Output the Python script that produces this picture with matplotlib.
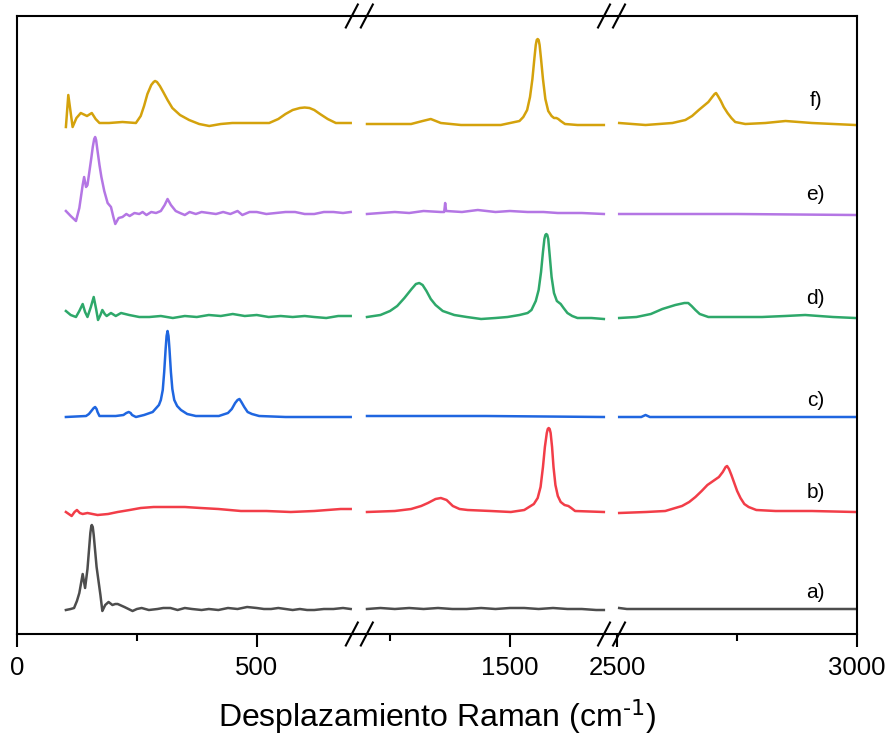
import numpy as np
import matplotlib
matplotlib.use('Agg')
import matplotlib.pyplot as plt
from matplotlib.ticker import FixedLocator

plt.rcParams['font.family'] = ['Liberation Sans', 'DejaVu Sans']
plt.rcParams['mathtext.default'] = 'regular'

nan = np.nan

# espectros Raman (desplazamiento en cm-1, intensidad relativa a su linea base)
# cada espectro tiene tres tramos separados por nan (0-700, 1200-1700, 2500-3000)
a_x = [102, 112, 119, 125, 130, 137, 142, 147, 150, 153, 155, 156, 158, 160, 163, 166, 170, 174, 177, 178,
       184, 191, 199, 205, 210, 224, 241, 250, 260, 275, 293, 305, 320, 335, 350, 365, 385, 400, 420, 440,
       460, 480, 500, 515, 530, 545, 560, 575, 590, 605, 620, 640, 660, 680, 696, nan,
       1202, 1230, 1260, 1290, 1320, 1350, 1380, 1410, 1440, 1470, 1500, 1530, 1560, 1590, 1620, 1650, 1680,
       1696, nan,
       2504, 2520, 2600, 2700, 2800, 2900, 2996]
a_y = [-1, 0, 1, 8, 16, 35, 21, 40, 58, 76, 83, 84, 82, 74, 58, 42, 28, 14, 2, -2,
       4, 7, 4, 5, 5, 2, -2, 0, 1, -1, 0, 1, 1, -1, 1, 0, -1, 0, -1, 1,
       0, 2, 1, 0, 0, 1, 0, -1, 0, -1, -1, 0, 0, 1, 0, nan,
       0, 1, 0, 1, 0, 1, 0, 0, 1, 0, 1, 1, 0, 1, 0, 0, -1,
       -1, nan,
       1, 0, 0, 0, 0, 0, 0]

b_x = [102, 108, 114, 120, 125, 131, 137, 147, 168, 190, 210, 235, 258, 285, 314, 350, 383, 420, 467, 520,
       571, 620, 675, 696, nan,
       1202, 1260, 1294, 1315, 1329, 1345, 1356, 1368, 1381, 1395, 1412, 1460, 1502, 1530, 1550, 1558, 1564,
       1569, 1573, 1577, 1579, 1581, 1583, 1585, 1588, 1591, 1595, 1600, 1606, 1614, 1622, 1628, 1636, 1696,
       nan,
       2504, 2560, 2600, 2635, 2650, 2663, 2676, 2688, 2700, 2712, 2720, 2726, 2729, 2733, 2738, 2744, 2750,
       2757, 2765, 2774, 2790, 2830, 2906, 2996]
b_y = [0, -2, -4, 0, 2, -1, -2, -1, -3, -2, 0, 2, 4, 5, 5, 5, 4, 3, 1, 1,
       0, 1, 3, 3, nan,
       0, 1, 3, 6, 9, 13, 14, 12, 6, 3, 2, 1, 0, 2, 8, 14, 25,
       45, 65, 79, 83, 84, 83, 79, 65, 45, 27, 16, 10, 7, 6, 4, 1, 0,
       nan,
       -1, 0, 1, 6, 10, 15, 21, 27, 31, 35, 40, 45, 46, 43, 37, 29, 21,
       14, 8, 5, 2, 1, 1, 0]

c_x = [102, 144, 150, 155, 160, 163, 166, 168, 172, 190, 206, 222, 228, 233, 237, 240, 248, 265, 283, 296,
       300, 304, 307, 310, 312, 314, 316, 318, 321, 324, 328, 334, 342, 355, 373, 421, 440, 448, 455, 460,
       464, 468, 474, 481, 490, 505, 560, 620, 696, nan,
       1202, 1450, 1696, nan,
       2504, 2550, 2559, 2568, 2996]
c_y = [0, 1, 3, 6, 9, 10, 8, 5, 1, 1, 1, 2, 4, 5, 4, 2, 0, 2, 5, 12,
       17, 27, 45, 68, 81, 86, 81, 68, 45, 28, 17, 11, 7, 3, 1, 1, 4, 8, 14, 17,
       18, 15, 10, 5, 3, 1, 0, 0, 0, nan,
       1, 1, 0, nan,
       0, 0, 2, 0, 0]

d_x = [102, 112, 123, 130, 137, 142, 147, 154, 160, 165, 169, 174, 178, 183, 187, 196, 206, 217, 234, 255,
       276, 300, 325, 350, 375, 400, 425, 450, 475, 500, 525, 550, 575, 600, 620, 645, 670, 696, nan,
       1202, 1230, 1250, 1265, 1280, 1295, 1304, 1311, 1318, 1326, 1335, 1345, 1360, 1384, 1410, 1440, 1470,
       1495, 1520, 1537, 1545, 1554, 1560, 1565, 1569, 1572, 1574, 1576, 1578, 1580, 1583, 1587, 1592, 1598,
       1606, 1612, 1620, 1630, 1641, 1670, 1696, nan,
       2504, 2540, 2570, 2594, 2621, 2640, 2648, 2655, 2663, 2672, 2690, 2750, 2802, 2850, 2892, 2950, 2996]
d_y = [6, 2, 0, 6, 13, 5, 0, 10, 20, 8, -3, 2, 7, 3, 1, 4, 1, 4, 2, 0,
       0, 1, -1, 1, 0, 2, 1, 3, 1, 2, 0, 1, 0, 1, 0, -1, 1, 1, nan,
       0, 2, 6, 11, 19, 28, 33, 34, 32, 26, 18, 12, 6, 2, 0, -2, -1,
       0, 2, 4, 7, 16, 27, 45, 65, 78, 82, 83, 82, 78, 62, 40, 24, 16,
       13, 9, 4, 1, -1, -1, -2, nan,
       -1, 0, 3, 8, 12, 14, 14, 11, 7, 3, 0, 0, 0, 1, 2, 0, -1]

e_x = [102, 112, 123, 130, 137, 140, 144, 147, 155, 158, 161, 163, 165, 168, 172, 176, 182, 189, 196, 201,
       205, 212, 220, 228, 235, 245, 255, 262, 270, 280, 290, 300, 308, 314, 321, 331, 340, 350, 360, 373,
       385, 400, 415, 430, 445, 460, 470, 485, 500, 520, 540, 560, 580, 600, 620, 640, 660, 680, 696, nan,
       1202, 1230, 1260, 1290, 1320, 1356, 1363, 1365, 1367, 1400, 1433, 1470, 1500, 1537, 1570, 1600, 1650,
       1696, nan,
       2504, 2750, 2996]
e_y = [2, -3, -8, 5, 28, 36, 26, 28, 55, 66, 74, 76, 73, 62, 48, 36, 22, 10, 6, -4,
       -11, -5, -4, -1, -3, 0, -1, 1, -2, 1, 0, 2, 8, 14, 8, 2, 0, -2, 1, -1,
       1, 0, -1, 1, -1, 2, -2, 1, 1, -1, 0, 1, 1, -1, -1, 1, 1, 0, 1, nan,
       -1, 0, 1, 0, 2, 1, 1, 10, 2, 1, 3, 1, 2, 1, 1, 0, 0,
       -1, nan,
       -1, -1, -2]

f_x = [102, 107, 116, 124, 133, 146, 156, 164, 172, 192, 220, 248, 258, 265, 272, 280, 285, 288, 292, 298,
       305, 314, 324, 340, 359, 380, 401, 425, 449, 490, 526, 545, 560, 575, 590, 600, 610, 620, 632, 648,
       665, 696, nan,
       1202, 1250, 1294, 1318, 1335, 1356, 1398, 1481, 1520, 1528, 1536, 1542, 1547, 1551, 1554, 1556, 1558,
       1560, 1562, 1565, 1569, 1574, 1580, 1587, 1592, 1597, 1601, 1606, 1615, 1641, 1696, nan,
       2504, 2559, 2615, 2642, 2656, 2670, 2680, 2690, 2698, 2703, 2706, 2710, 2716, 2722, 2730, 2738, 2746,
       2767, 2809, 2851, 2906, 2996]
f_y = [-3, 29, -3, 6, 11, 8, 11, 5, 1, 1, 2, 1, 8, 18, 30, 39, 42, 43, 42, 38,
       32, 24, 16, 9, 4, 0, -2, 0, 1, 1, 1, 5, 10, 14, 16, 16.5, 16, 14, 10, 5,
       1, 1, nan,
       0, 0, 0, 3, 5, 1, -1, -1, 3, 7, 14, 27, 45, 65, 79, 84, 85,
       84, 79, 65, 45, 25, 13, 8, 6, 6, 5, 3, 0, -1, -1, nan,
       1, -1, 1, 4, 8, 14, 18, 22, 27, 30, 31, 28, 23, 17, 11, 6, 2,
       0, 1, 3, 1, -1]

etiquetas = ['a)', 'b)', 'c)', 'd)', 'e)', 'f)']
desplazamientos = [25, 122, 217, 317, 421, 510]
etiqueta_dy = [16, 20, 16, 18, 18, 23]
colores = ['#4d4d4d', '#f23d48', '#1f66e0', '#2ea86a', '#b476e4', '#d4a20c']

# eje x con cortes: 700-1200 y 1700-2500 comprimidos
brk_x = [-1e5, 0, 700, 1200, 1700, 2500, 3000, 1e5]
brk_s = [-1e5, 0, 700, 728, 1228, 1252, 1752, 98752]


def adelante(x):
    return np.interp(x, brk_x, brk_s)


def atras(s):
    return np.interp(s, brk_s, brk_x)


fig = plt.figure(figsize=(8.91, 7.42), dpi=100)
ax = fig.add_axes([17 / 891, 108 / 742, 840 / 891, 618 / 742])
ax.set_xscale('function', functions=(adelante, atras))

series = [(a_x, a_y), (b_x, b_y), (c_x, c_y), (d_x, d_y), (e_x, e_y), (f_x, f_y)]
for (xs, ys), off, col, lab, dy in zip(series, desplazamientos, colores, etiquetas, etiqueta_dy):
    ax.plot(xs, np.array(ys) + off, color=col, lw=1.8)
    ax.text(2914, off + dy, lab, fontsize=15, ha='center', va='center')

ax.set_xlim(0, 3000)
ax.set_ylim(0, 618)
ax.set_yticks([])
ax.xaxis.set_major_locator(FixedLocator([0, 500, 1500, 2500, 3000]))
ax.xaxis.set_minor_locator(FixedLocator([250, 1250, 2750]))
ax.tick_params(axis='x', which='major', direction='out', length=9, width=1.5, labelsize=18.5, pad=7)
ax.tick_params(axis='x', which='minor', direction='out', length=5, width=1.5)
for s in ax.spines.values():
    s.set_linewidth(1.5)

ax.set_xlabel(r'Desplazamiento Raman (cm$^{\text{-1}}$)', fontsize=23, labelpad=12)

# marcas de corte // en los ejes superior e inferior
for xc in [950, 2100]:
    fx = adelante(xc) / 1752
    for sep in [-7.5, 7.5]:
        cx = fx + sep / 840
        for yb in [0, 1]:
            ax.plot([cx - 6 / 840, cx + 6 / 840], [yb - 11.5 / 618, yb + 11.5 / 618],
                    color='black', lw=1.5, transform=ax.transAxes, clip_on=False)

plt.savefig('out.png', dpi=100)
